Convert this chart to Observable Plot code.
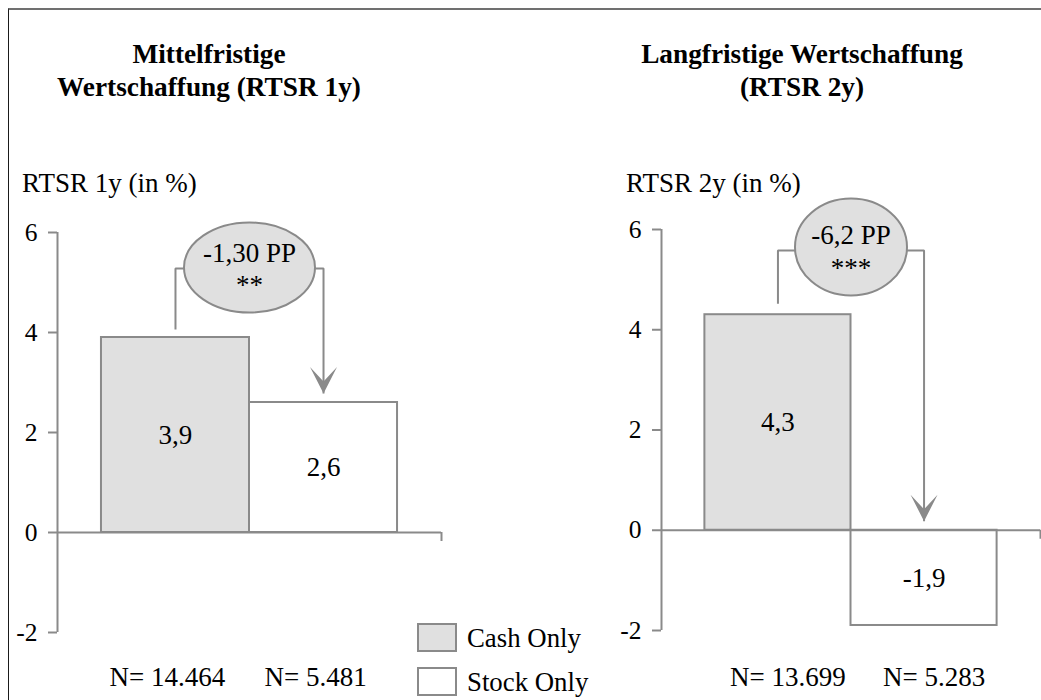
<!DOCTYPE html>
<html>
<head>
<meta charset="utf-8">
<script src="https://cdn.jsdelivr.net/npm/d3@7"></script>
<script src="https://cdn.jsdelivr.net/npm/@observablehq/plot@0.6"></script>
<style>
  html, body { margin: 0; padding: 0; background: #fff; }
  #chart { position: relative; width: 1041px; height: 700px; overflow: hidden;
           font-family: "Liberation Serif", "Times New Roman", serif; color: #000; }
  .frame { position: absolute; left: 8px; top: 8px; right: -10px; bottom: -10px;
           border-top: 2px solid #707070; border-left: 1.5px solid #1a1a1a; }
  .panel { position: absolute; top: 0; }
  .title { position: absolute; font-weight: bold; font-size: 27.3px; line-height: 33px;
           text-align: center; white-space: nowrap; transform: translateX(-50%); }
  .ylab { position: absolute; font-size: 27px; line-height: 27px; white-space: nowrap; }
  .legend-row { position: absolute; height: 29px; }
  .swatch { position: absolute; left: 0; top: 0; width: 40px; height: 29px;
            box-sizing: border-box; border: 2px solid #8a8a8a; }
  .legend-row span { position: absolute; left: 50px; top: 1px; font-size: 26.8px;
                     line-height: 29px; white-space: nowrap; }
</style>
</head>
<body>
<div id="chart"><div class="frame"></div></div>
<script>
// Groups and their values (RTSR in %)
const categories = ["Cash Only", "Stock Only"];
const fills = ["#e0e0e0", "#ffffff"];
const rtsr1y = [3.9, 2.6];
const rtsr2y = [4.3, -1.9];
const nLabels1y = ["N= 14.464", "N= 5.481"];
const nLabels2y = ["N= 13.699", "N= 5.283"];
const yTicks = [-2, 0, 2, 4, 6];
const titles = [["Mittelfristige", "Wertschaffung (RTSR 1y)"], ["Langfristige Wertschaffung", "(RTSR 2y)"]];
const yLabels = ["RTSR 1y (in %)", "RTSR 2y (in %)"];
const diffLabels = ["-1,30 PP\n**", "-6,2 PP\n***"];
// Difference bracket: [start above cash bar, bracket level, arrow tip]
const bracket1y = [4.06, 5.28, 2.78];
const bracket2y = [4.52, 5.58, 0.18];
// Vertical position of the difference bubble
const bubbleY = [5.3, 5.65];

const gray = "#8a8a8a";
const xDomain = [-0.297, 2.297];
const fmtComma = v => v.toFixed(1).replace(".", ",");

// Ellipse symbol drawn with cubic Béziers
function ellipseSymbol(rx, ry) {
  const k = 0.5523;
  return {
    draw(ctx) {
      ctx.moveTo(rx, 0);
      ctx.bezierCurveTo(rx, ry * k, rx * k, ry, 0, ry);
      ctx.bezierCurveTo(-rx * k, ry, -rx, ry * k, -rx, 0);
      ctx.bezierCurveTo(-rx, -ry * k, -rx * k, -ry, 0, -ry);
      ctx.bezierCurveTo(rx * k, -ry, rx, -ry * k, rx, 0);
      ctx.closePath();
    }
  };
}

// Filled downward arrowhead, tip at the anchor point
const arrowHead = {
  draw(ctx) {
    ctx.moveTo(0, 0);
    ctx.lineTo(-13.5, -26.5);
    ctx.lineTo(0, -12);
    ctx.lineTo(13.5, -26.5);
    ctx.closePath();
  }
};

function panel({values, nLabels, bracket, bubble, diffText, ellipse, width, marginRight, marginTop, marginBottom, nDx, nPad, bubbleDy}) {
  const bars = categories.map((c, i) => ({i, cat: c, value: values[i]}));
  const path = [[0.5, bracket[0]], [0.5, bracket[1]], [1.5, bracket[1]], [1.5, bracket[2]]];
  return Plot.plot({
    width, height: 700,
    marginLeft: 57, marginRight, marginTop, marginBottom,
    x: {domain: xDomain, axis: null},
    y: {domain: [-2, 6], axis: null},
    color: {domain: categories, range: fills},
    style: {fontFamily: '"Liberation Serif", "Times New Roman", serif', fontSize: "27px", background: "transparent", color: "#000"},
    marks: [
      Plot.rect(bars, {x1: d => d.i, x2: d => d.i + 1, y1: 0, y2: "value", fill: "cat", stroke: gray, strokeWidth: 2}),
      Plot.text(bars, {x: d => d.i + 0.5, y: d => d.value / 2, text: d => fmtComma(d.value), fontSize: 27}),
      Plot.ruleX([xDomain[0]], {stroke: gray, strokeWidth: 2}),
      Plot.ruleY([0], {stroke: gray, strokeWidth: 2}),
      Plot.ruleX([xDomain[1]], {y1: 0, y2: 0, insetBottom: -9, stroke: gray, strokeWidth: 2}),
      Plot.axisY({ticks: yTicks, tickSize: 9, tickPadding: 11, tickFormat: d => String(d), fontSize: 25.5,
                  stroke: gray, strokeWidth: 2, fill: "#000", label: null}),
      Plot.axisX({ticks: [0.5, 1.5], tickFormat: d => nLabels[Math.floor(d)], tickSize: 0, tickPadding: nPad,
                  fontSize: 27, dx: nDx, fill: "#000", label: null}),
      Plot.line(path, {x: d => d[0], y: d => d[1], stroke: gray, strokeWidth: 2, strokeLinejoin: "miter", strokeLinecap: "butt"}),
      Plot.dot([path[3]], {x: d => d[0], y: d => d[1], symbol: arrowHead, fill: gray, stroke: null}),
      Plot.dot([[1, bubble]], {x: d => d[0], y: d => d[1], symbol: ellipse, fill: "#e0e0e0", stroke: gray, strokeWidth: 2}),
      Plot.text([[1, bubble]], {x: d => d[0], y: d => d[1], text: () => diffText, lineHeight: 1.2, fontSize: 27, dy: bubbleDy})
    ]
  });
}

const chart = document.getElementById("chart");

const left = panel({
  values: rtsr1y, nLabels: nLabels1y, bracket: bracket1y, bubble: bubbleY[0], diffText: diffLabels[0],
  ellipse: ellipseSymbol(65.5, 45), width: 520, marginRight: 79, marginTop: 232, marginBottom: 68,
  nDx: -8, nPad: 34, bubbleDy: 0
});
left.classList.add("panel");
left.style.left = "0px";
chart.appendChild(left);

const right = panel({
  values: rtsr2y, nLabels: nLabels2y, bracket: bracket2y, bubble: bubbleY[1], diffText: diffLabels[1],
  ellipse: ellipseSymbol(56, 48.5), width: 437, marginRight: 1, marginTop: 229, marginBottom: 70,
  nDx: 10, nPad: 36, bubbleDy: 3
});
right.classList.add("panel");
right.style.left = "604px";
chart.appendChild(right);

// Panel titles and axis labels
const titleX = [209, 802];
const ylabX = [22, 626];
titles.forEach((lines, i) => {
  const t = document.createElement("div");
  t.className = "title";
  t.style.left = titleX[i] + "px";
  t.style.top = "38px";
  t.innerHTML = lines.join("<br>");
  chart.appendChild(t);
  const l = document.createElement("div");
  l.className = "ylab";
  l.style.left = ylabX[i] + "px";
  l.style.top = "170px";
  l.textContent = yLabels[i];
  chart.appendChild(l);
});

// Legend
const legendTop = [623, 667];
categories.forEach((c, i) => {
  const row = document.createElement("div");
  row.className = "legend-row";
  row.style.left = "417px";
  row.style.top = legendTop[i] + "px";
  const sw = document.createElement("div");
  sw.className = "swatch";
  sw.style.background = fills[i];
  const lab = document.createElement("span");
  lab.textContent = c;
  row.appendChild(sw);
  row.appendChild(lab);
  chart.appendChild(row);
});
</script>
</body>
</html>
